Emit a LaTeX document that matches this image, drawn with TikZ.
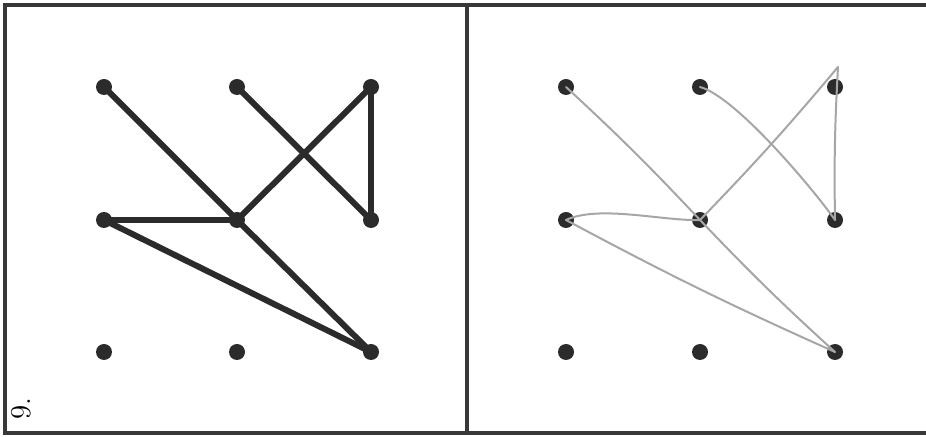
\documentclass[tikz,border=0pt]{standalone}
\usepackage{xcolor}
\definecolor{InkDark}{HTML}{2B2B2B}
\definecolor{PencilGray}{HTML}{A6A6A6}
\definecolor{FrameGray}{HTML}{383838}
\usetikzlibrary{positioning}

\begin{document}
\begin{tikzpicture}[x=0.5pt,y=-0.5pt,
  dot/.style={circle,fill=InkDark,inner sep=0pt,minimum size=8pt},
  ink/.style={InkDark,line width=3pt,line cap=round},
  pencil/.style={PencilGray,line width=1pt,line cap=round},
  frame/.style={FrameGray,line width=1.6pt}]
  \useasboundingbox (0,0) rectangle (926,437);
  % Frame
  \draw[frame](926,5)--(5,5)--(5,433)--(926,433);
  \draw[frame](467,5)--(467,433);
  % Dots
  \foreach \c/\x in {1/104,2/237,3/371}
    \foreach \r/\y in {1/87,2/220,3/352}
      \node[dot](L\c\r) at (\x,\y) {};
  \foreach \c/\x in {1/566,2/700,3/835}
    \foreach \r/\y in {1/87,2/220,3/352}
      \node[dot](R\c\r) at (\x,\y) {};
  % Left: inked path
  \draw[ink](L11.center)--(L22.center);
  \draw[ink](L21.center)--(L32.center);
  \draw[ink](L31.center)--(L32.center);
  \draw[ink](L31.center)--(L22.center);
  \draw[ink](L12.center)--(L22.center);
  \draw[ink](L12.center)--(L33.center);
  \draw[ink](L22.center)--(L33.center);
  % Right: pencil copy
  \coordinate(tip) at (838,67);
  \draw[pencil](R11.center) to[bend left=2] (R22.center);
  \draw[pencil](R21.center) to[out=-15,in=125,looseness=0.5] (R32.center);
  \draw[pencil](R32.center) to[bend left=2] (tip);
  \draw[pencil](tip) to[bend left=2] (R22.center);
  \draw[pencil](R12.center) to[out=25,in=182,looseness=0.7] (R22.center);
  \draw[pencil](R12.center) to[bend right=2] (R33.center);
  \draw[pencil](R22.center) to[bend right=2] (R33.center);
  % Annotation
  \node[rotate=90,font=\Large](num) at (21,409) {9.};
\end{tikzpicture}
\end{document}
